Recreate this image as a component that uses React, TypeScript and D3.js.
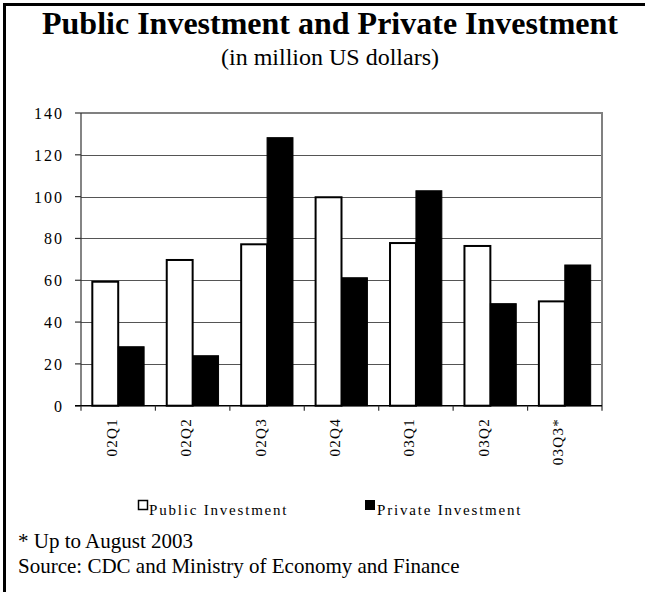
import React from "react";
import * as d3 from "d3";

const categories = ["02Q1", "02Q2", "02Q3", "02Q4", "03Q1", "03Q2", "03Q3*"];
const publicInvestment = [59.3, 69.7, 77.2, 99.7, 77.8, 76.4, 49.9];
const privateInvestment = [28.2, 23.9, 128.2, 61.2, 102.8, 48.8, 67.3];
const yTicks = [0, 20, 40, 60, 80, 100, 120, 140];
const seriesNames = ["Public Investment", "Private Investment"];

const W = 645;
const H = 592;
const FONT = "'Liberation Serif', 'Times New Roman', serif";

export default function App() {
  const left = 81, right = 602, top = 113, bottom = 405.7;
  const x0 = d3.scaleBand<string>().domain(categories).range([left, right]).padding(0);
  const bw = x0.bandwidth();
  const x1 = d3.scaleBand<string>().domain(seriesNames).range([bw * 0.152, bw * 0.848]).padding(0);
  const y = d3.scaleLinear().domain([0, 140]).range([bottom, top]);
  const rows = categories.map((c, i) => ({ c, pub: publicInvestment[i], priv: privateInvestment[i] }));

  return (
    <svg width={W} height={H} style={{ position: "fixed", left: 0, top: 0, background: "#fff" }} fontFamily={FONT}>
      <rect x={0} y={0} width={W} height={H} fill="#fff" />
      {/* frame */}
      <line x1={3} x2={W} y1={4.5} y2={4.5} stroke="#000" strokeWidth={3} />
      <line x1={4.5} x2={4.5} y1={3} y2={H} stroke="#000" strokeWidth={3} />

      {/* titles */}
      <text x={330} y={34} textAnchor="middle" fontSize={32} fontWeight="bold" fill="#000">
        Public Investment and Private Investment
      </text>
      <text x={330} y={65} textAnchor="middle" fontSize={24} fill="#000">
        (in million US dollars)
      </text>

      {/* gridlines */}
      {yTicks.filter((t) => t > 0 && t < 140).map((t) => (
        <line key={t} x1={left} x2={right} y1={Math.round(y(t)) + 0.5} y2={Math.round(y(t)) + 0.5} stroke="#555" strokeWidth={1} />
      ))}
      {/* plot frame top & right */}
      <line x1={left} x2={right} y1={y(140)} y2={y(140)} stroke="#808080" strokeWidth={2} />
      <line x1={right} x2={right} y1={y(140) - 1} y2={bottom + 5} stroke="#808080" strokeWidth={2} />

      {/* bars */}
      {rows.map((r) => (
        <g key={r.c} transform={`translate(${x0(r.c)},0)`}>
          <rect x={x1("Public Investment")} y={y(r.pub)} width={x1.bandwidth()} height={bottom - y(r.pub)} fill="#fff" stroke="#000" strokeWidth={2} />
          <rect x={x1("Private Investment")} y={y(r.priv)} width={x1.bandwidth()} height={bottom - y(r.priv)} fill="#000" stroke="#000" strokeWidth={1} />
        </g>
      ))}

      {/* y axis */}
      <line x1={left} x2={left} y1={top} y2={bottom} stroke="#333" strokeWidth={1.2} />
      {yTicks.map((t) => (
        <g key={t}>
          <line x1={left - 6} x2={left} y1={y(t)} y2={y(t)} stroke="#333" strokeWidth={1.2} />
          <text x={64} y={y(t) + 6} textAnchor="end" fontSize={16} letterSpacing={2} fill="#000">
            {t}
          </text>
        </g>
      ))}

      {/* x axis */}
      <line x1={left - 6} x2={right} y1={bottom} y2={bottom} stroke="#000" strokeWidth={1.5} />
      {categories.map((c) => (
        <line key={c} x1={x0(c)!} x2={x0(c)!} y1={bottom} y2={bottom + 5} stroke="#333" strokeWidth={1.2} />
      ))}
      {categories.map((c) => {
        const cx = x0(c)! + bw / 2 - 1.5;
        return (
          <text key={c} transform={`translate(${cx},418) rotate(-90)`} textAnchor="end" fontSize={15} letterSpacing={1.3} fill="#000">
            {c}
          </text>
        );
      })}

      {/* legend */}
      <rect x={138.5} y={500.5} width={9} height={9} fill="#fff" stroke="#000" strokeWidth={1.5} />
      <text x={149} y={515} fontSize={15} letterSpacing={1.8} fill="#000">{seriesNames[0]}</text>
      <rect x={365} y={500} width={10} height={10} fill="#000" />
      <text x={377} y={515} fontSize={15} letterSpacing={1.8} fill="#000">{seriesNames[1]}</text>

      {/* notes */}
      <text x={18} y={548} fontSize={21} fill="#000">* Up to August 2003</text>
      <text x={18} y={573} fontSize={21} fill="#000">Source: CDC and Ministry of Economy and Finance</text>
    </svg>
  );
}
